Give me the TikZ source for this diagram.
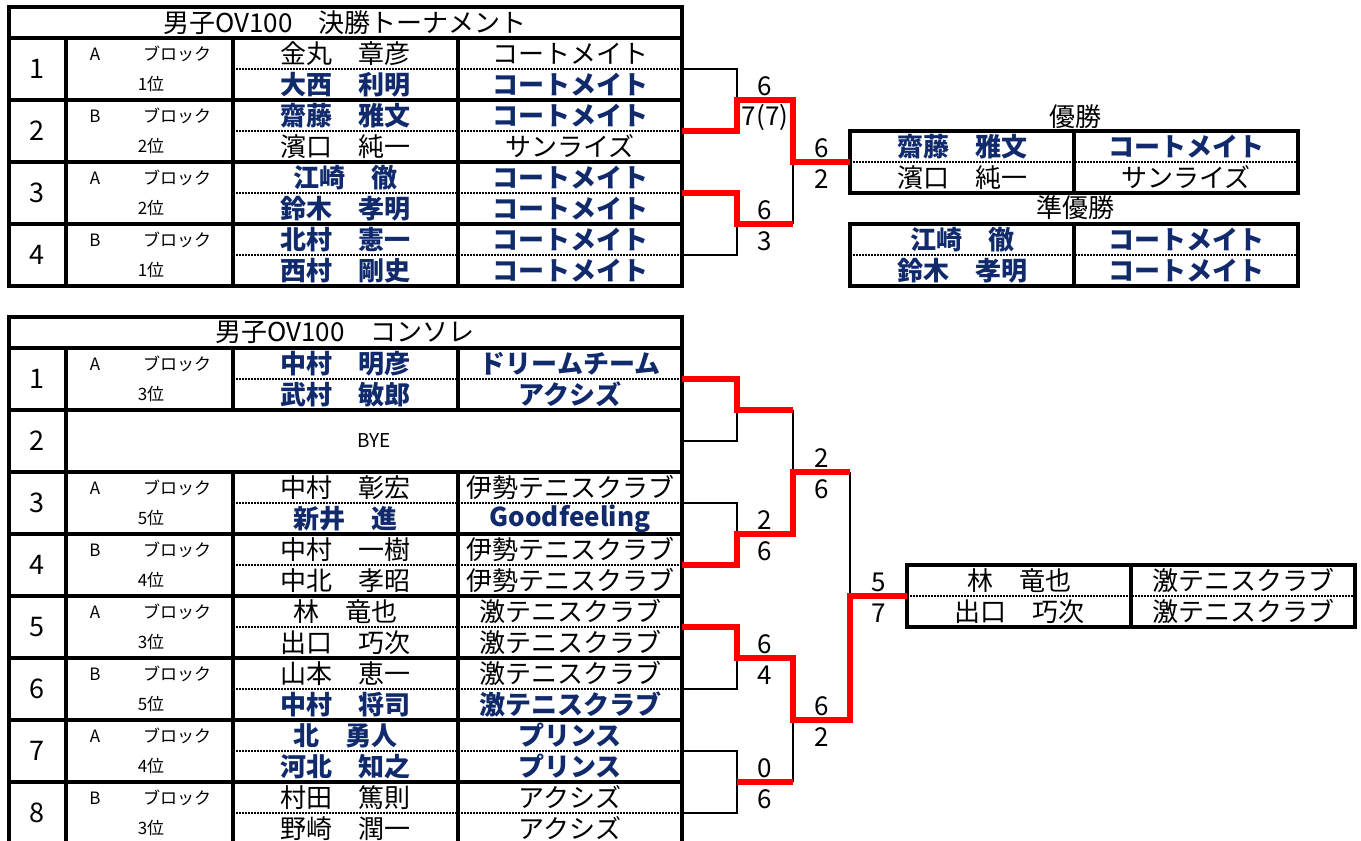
\documentclass[tikz,border=0pt]{standalone}
\usepackage{fontspec}
\usepackage{tikz}
\usetikzlibrary{positioning,calc}
\setmainfont{Noto Sans CJK JP}
\definecolor{TeamBlue}{RGB}{16,42,108}
\definecolor{WinRed}{RGB}{255,0,0}
\tikzset{
    grid_line/.style={draw=black, line width=1.6pt},
    dot_line/.style={draw=black, line width=1.1pt, dash pattern=on 1pt off 0.5pt},
    tree_line/.style={draw=black, line width=1.2pt},
    win_line/.style={draw=WinRed, line width=2.6pt}
}

\begin{document}
\begin{tikzpicture}[
        x=0.5pt, y=-0.5pt,
        % --- 文字スタイル ---
        base_txt/.style={inner sep=0pt, text=black},
        title_txt/.style={base_txt, font=\fontsize{13}{13}\selectfont},
        no_txt/.style={base_txt, font=\fontsize{13.5}{13.5}\selectfont},
        small_txt/.style={base_txt, font=\fontsize{8.5}{8.5}\selectfont},
        % 通常の選手（黒）
        plain_txt/.style={base_txt, font=\fontsize{13}{13}\selectfont},
        % 勝ち上がった選手（紺・太字）
        blue_txt/.style={base_txt, text=TeamBlue, font=\fontsize{13}{13}\selectfont\bfseries},
        score_txt/.style={base_txt, font=\fontsize{13}{13}\selectfont}
    ]
    \useasboundingbox (0,0) rectangle (1361,841);

    % --- 決勝トーナメント 表 ---
    \draw[grid_line] (9,7) rectangle (682,286);
    \foreach \y in {38,100,162,224} \draw[grid_line] (9,\y) -- (682,\y);
    \foreach \x in {66,233,458} \draw[grid_line] (\x,38) -- (\x,286);
    \foreach \y in {69,131,193,255} \draw[dot_line] (233,\y) -- (682,\y);
    \node[title_txt] (ftitle) at (345,22.5) {男子OV100　決勝トーナメント};

    \foreach \n/\blk/\rk/\pa/\ca/\sa/\pb/\cb/\sb in {
        1/A/1/金丸　章彦/コートメイト/plain_txt/大西　利明/コートメイト/blue_txt,
        2/B/2/齋藤　雅文/コートメイト/blue_txt/濱口　純一/サンライズ/plain_txt,
        3/A/2/江崎　徹/コートメイト/blue_txt/鈴木　孝明/コートメイト/blue_txt,
        4/B/1/北村　憲一/コートメイト/blue_txt/西村　剛史/コートメイト/blue_txt} {
        \pgfmathsetmacro{\ry}{38+62*(\n-1)}
        \node[no_txt] (f\n-no) at (37,\ry+31) {\n};
        \node[small_txt] (f\n-a) at (95,\ry+16.5) {\blk};
        \node[small_txt] (f\n-blk) at (177,\ry+15.5) {ブロック};
        \node[small_txt] (f\n-rk) at (151,\ry+46.5) {\rk 位};
        \node[\sa] (f\n-pa) at (345.5,\ry+15.5) {\pa};
        \node[\sa] (f\n-ca) at (570,\ry+15.5) {\ca};
        \node[\sb] (f\n-pb) at (345.5,\ry+46.5) {\pb};
        \node[\sb] (f\n-cb) at (570,\ry+46.5) {\cb};
    }

    % --- 優勝・準優勝 ---
    \node[title_txt] (yusho) at (1075,117) {優勝};
    \draw[grid_line] (850,131) rectangle (1298,193);
    \draw[grid_line] (1074,131) -- (1074,193);
    \draw[dot_line] (850,162) -- (1298,162);
    \node[blue_txt] (w1-p) at (962,146.5) {齋藤　雅文};
    \node[blue_txt] (w1-c) at (1186,146.5) {コートメイト};
    \node[plain_txt] (w2-p) at (962,177.5) {濱口　純一};
    \node[plain_txt] (w2-c) at (1186,177.5) {サンライズ};

    \node[title_txt] (junyusho) at (1075,208) {準優勝};
    \draw[grid_line] (850,224) rectangle (1298,286);
    \draw[grid_line] (1074,224) -- (1074,286);
    \draw[dot_line] (850,255) -- (1298,255);
    \node[blue_txt] (r1-p) at (962,239.5) {江崎　徹};
    \node[blue_txt] (r1-c) at (1186,239.5) {コートメイト};
    \node[blue_txt] (r2-p) at (962,270.5) {鈴木　孝明};
    \node[blue_txt] (r2-c) at (1186,270.5) {コートメイト};

    % --- 決勝トーナメント 山 ---
    \foreach \i in {1,...,4} \coordinate (f\i) at (682,{69+62*(\i-1)});
    \coordinate (fa) at (737,100);  \coordinate (fa2) at (793,100);
    \coordinate (fb) at (737,224);  \coordinate (fb2) at (793,224);
    \coordinate (fc) at (793,162);  \coordinate (fc2) at (850,162);

    \draw[tree_line] (f1) -| (fa);
    \draw[tree_line] (f4) -| (fb);
    \draw[tree_line] (fb2) -- (fc);
    \draw[win_line] (f2) -| (fa) -- (fa2) |- (fc2);
    \draw[win_line] (f3) -| (fb) -- (fb2);

    % --- コンソレ 表 ---
    \draw[grid_line] (9,317) rectangle (682,844);
    \foreach \y in {348,410,472,534,596,658,720,782} \draw[grid_line] (9,\y) -- (682,\y);
    \draw[grid_line] (66,348) -- (66,844);
    \foreach \x in {233,458} {
        \draw[grid_line] (\x,348) -- (\x,410);
        \draw[grid_line] (\x,472) -- (\x,844);
    }
    \foreach \y in {379,503,565,627,689,751,813} \draw[dot_line] (233,\y) -- (682,\y);
    \node[title_txt] (ctitle) at (345,332.5) {男子OV100　コンソレ};

    \foreach \n/\blk/\rk/\pa/\ca/\sa/\pb/\cb/\sb in {
        1/A/3/中村　明彦/ドリームチーム/blue_txt/武村　敏郎/アクシズ/blue_txt,
        3/A/5/中村　彰宏/伊勢テニスクラブ/plain_txt/新井　進/Goodfeeling/blue_txt,
        4/B/4/中村　一樹/伊勢テニスクラブ/plain_txt/中北　孝昭/伊勢テニスクラブ/plain_txt,
        5/A/3/林　竜也/激テニスクラブ/plain_txt/出口　巧次/激テニスクラブ/plain_txt,
        6/B/5/山本　恵一/激テニスクラブ/plain_txt/中村　将司/激テニスクラブ/blue_txt,
        7/A/4/北　勇人/プリンス/blue_txt/河北　知之/プリンス/blue_txt,
        8/B/3/村田　篤則/アクシズ/plain_txt/野崎　潤一/アクシズ/plain_txt} {
        \pgfmathsetmacro{\ry}{348+62*(\n-1)}
        \node[no_txt] (c\n-no) at (37,\ry+31) {\n};
        \node[small_txt] (c\n-a) at (95,\ry+16.5) {\blk};
        \node[small_txt] (c\n-blk) at (177,\ry+15.5) {ブロック};
        \node[small_txt] (c\n-rk) at (151,\ry+46.5) {\rk 位};
        \node[\sa] (c\n-pa) at (345.5,\ry+15.5) {\pa};
        \node[\sa] (c\n-ca) at (570,\ry+15.5) {\ca};
        \node[\sb] (c\n-pb) at (345.5,\ry+46.5) {\pb};
        \node[\sb] (c\n-cb) at (570,\ry+46.5) {\cb};
    }
    \node[no_txt] (c2-no) at (37,441) {2};
    \node[small_txt, font=\fontsize{9.5}{9.5}\selectfont] (c2-bye) at (374,441) {BYE};

    % --- コンソレ 決勝 ---
    \draw[grid_line] (907,565) rectangle (1355,627);
    \draw[grid_line] (1131,565) -- (1131,627);
    \draw[dot_line] (907,596) -- (1355,596);
    \node[plain_txt] (k1-p) at (1019,580.5) {林　竜也};
    \node[plain_txt] (k1-c) at (1243,580.5) {激テニスクラブ};
    \node[plain_txt] (k2-p) at (1019,611.5) {出口　巧次};
    \node[plain_txt] (k2-c) at (1243,611.5) {激テニスクラブ};

    % --- コンソレ 山 ---
    \foreach \i in {1,...,8} \coordinate (c\i) at (682,{379+62*(\i-1)});
    \coordinate (qa) at (737,410);  \coordinate (qa2) at (793,410);
    \coordinate (qb) at (737,534);  \coordinate (qb2) at (793,534);
    \coordinate (qc) at (737,658);  \coordinate (qc2) at (793,658);
    \coordinate (qd) at (737,782);  \coordinate (qd2) at (793,782);
    \coordinate (sa) at (793,472);  \coordinate (sa2) at (850,472);
    \coordinate (sb) at (793,720);  \coordinate (sb2) at (850,720);
    \coordinate (fin) at (850,596); \coordinate (fin2) at (907,596);

    \draw[tree_line] (c2) -| (qa);
    \draw[tree_line] (c3) -| (qb);
    \draw[tree_line] (c6) -| (qc);
    \draw[tree_line] (c7) -| (qd);
    \draw[tree_line] (c8) -| (qd);
    \draw[tree_line] (qa2) -- (sa);
    \draw[tree_line] (qd2) -- (sb);
    \draw[tree_line] (sa2) -- (fin);
    \draw[win_line] (c1) -| (qa) -- (qa2);
    \draw[win_line] (c4) -| (qb) -- (qb2) |- (sa2);
    \draw[win_line] (c5) -| (qc) -- (qc2) |- (sb2) |- (fin2);
    \draw[win_line] (qd) -- (qd2);

    % --- スコア ---
    \foreach \p/\q/\up/\dn in {fa/fa2/6/7(7), fb/fb2/6/3, fc/fc2/6/2,
        qb/qb2/2/6, qc/qc2/6/4, qd/qd2/0/6, sa/sa2/2/6, sb/sb2/6/2, fin/fin2/5/7} {
        \node[score_txt] (\p-up) at ($(\p)!.5!(\q)+(0,-14)$) {\up};
        \node[score_txt] (\p-dn) at ($(\p)!.5!(\q)+(0,17)$) {\dn};
    }

\end{tikzpicture}
\end{document}
